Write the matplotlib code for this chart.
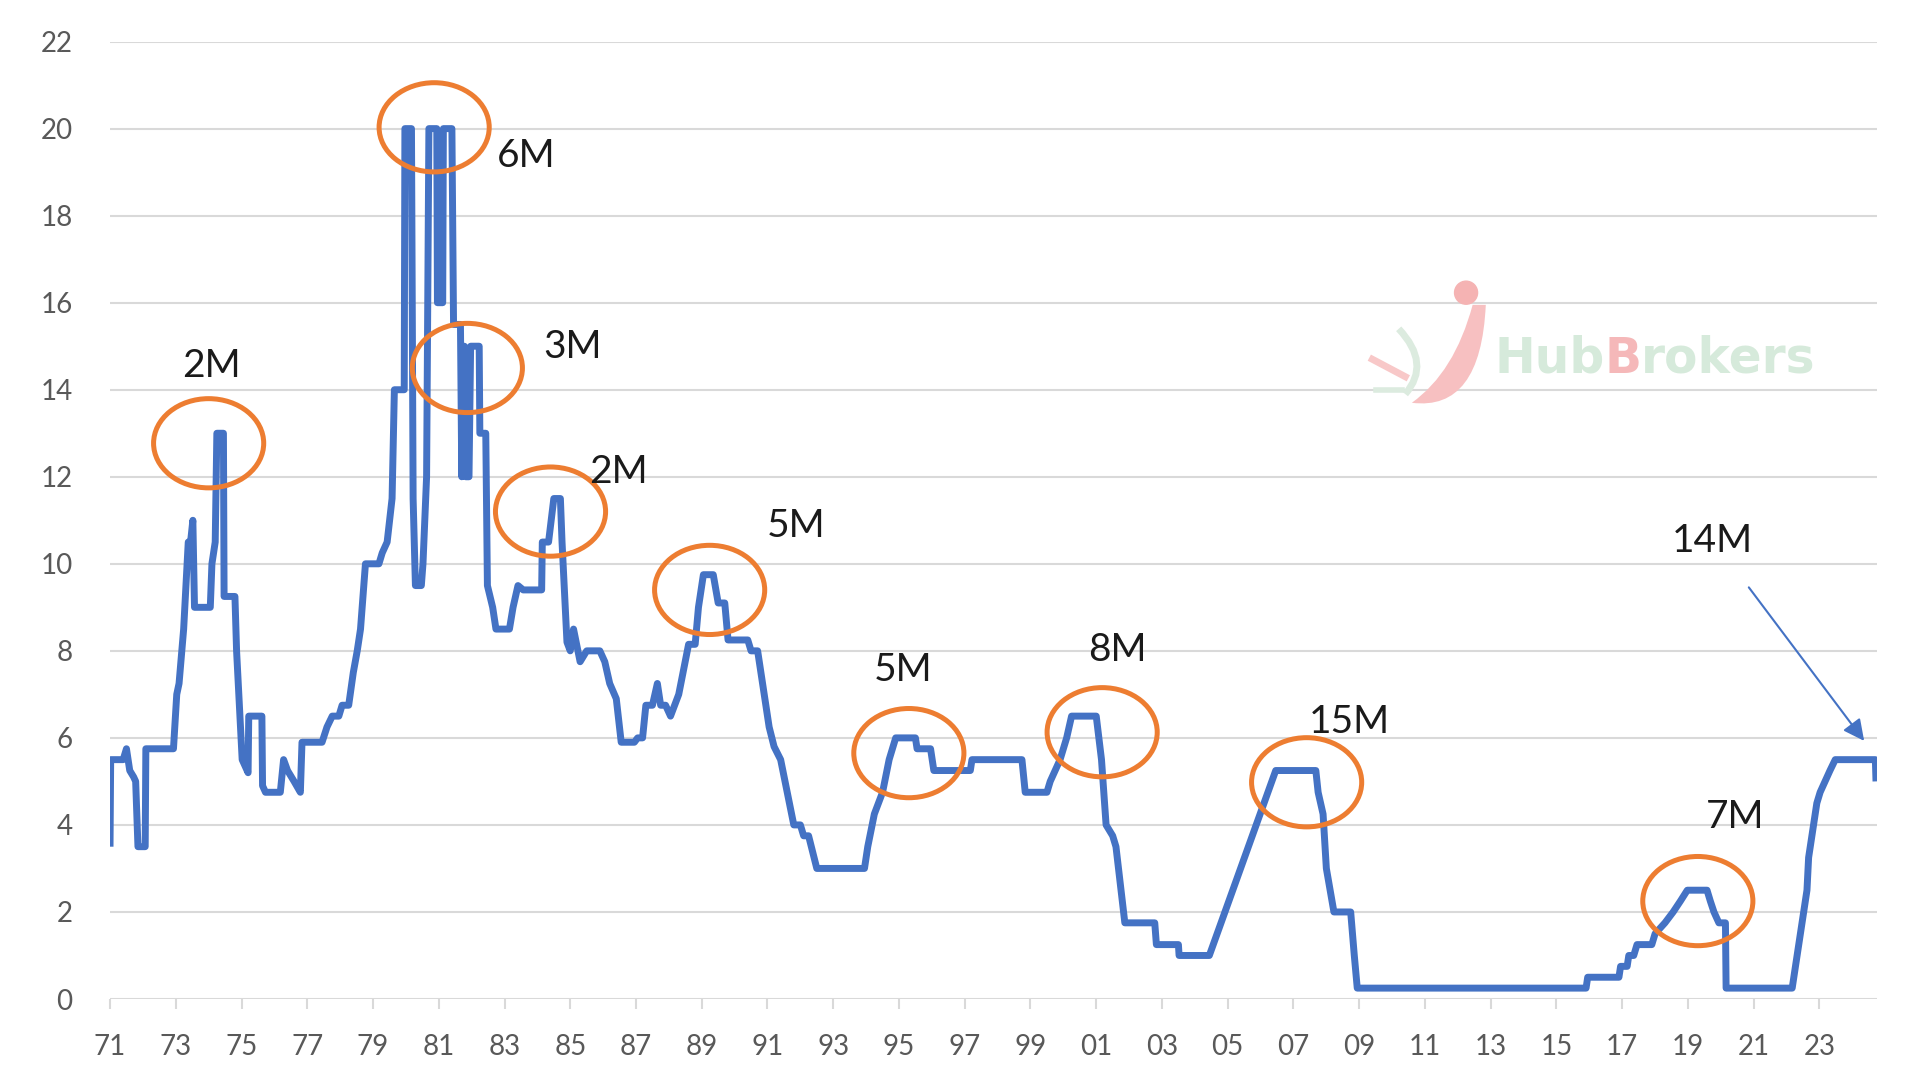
import numpy as np
import matplotlib
matplotlib.use('Agg')
import matplotlib.pyplot as plt
from matplotlib.patches import Ellipse, PathPatch
from matplotlib.path import Path

# tipo de interes (fin de periodo)
yrs = [1971.00, 1971.02, 1971.40, 1971.50, 1971.60, 1971.72, 1971.78, 1971.85, 1972.07, 1972.09,
       1972.93, 1973.03, 1973.10, 1973.24, 1973.38, 1973.45, 1973.52, 1973.57, 1974.05, 1974.10,
       1974.20, 1974.25, 1974.45, 1974.47, 1974.80, 1974.85, 1975.02, 1975.20, 1975.22, 1975.62,
       1975.64, 1975.73, 1976.18, 1976.28, 1976.40, 1976.60, 1976.79, 1976.84, 1977.45, 1977.60,
       1977.76, 1977.96, 1978.06, 1978.26, 1978.40, 1978.52, 1978.62, 1978.72, 1978.77, 1979.18,
       1979.28, 1979.43, 1979.58, 1979.65, 1979.95, 1979.97, 1980.17, 1980.22, 1980.29, 1980.47,
       1980.52, 1980.63, 1980.70, 1980.94, 1980.96, 1981.12, 1981.14, 1981.40, 1981.45, 1981.66,
       1981.70, 1981.78, 1981.82, 1981.92, 1981.97, 1982.23, 1982.25, 1982.43, 1982.48, 1982.64,
       1982.74, 1983.15, 1983.26, 1983.41, 1983.57, 1984.13, 1984.15, 1984.34, 1984.50, 1984.70,
       1984.75, 1984.90, 1985.00, 1985.10, 1985.30, 1985.50, 1985.90, 1986.05, 1986.20, 1986.40,
       1986.55, 1986.95, 1987.05, 1987.20, 1987.30, 1987.50, 1987.65, 1987.75, 1987.90, 1988.05,
       1988.30, 1988.60, 1988.80, 1988.90, 1989.05, 1989.35, 1989.50, 1989.70, 1989.80, 1990.40,
       1990.50, 1990.70, 1991.05, 1991.20, 1991.40, 1991.80, 1992.00, 1992.10, 1992.25, 1992.50,
       1993.95, 1994.05, 1994.25, 1994.50, 1994.70, 1994.90, 1995.50, 1995.55, 1995.96, 1996.06,
       1997.17, 1997.22, 1998.74, 1998.84, 1999.50, 1999.60, 1999.75, 1999.90, 2000.10, 2000.25,
       2001.00, 2001.16, 2001.30, 2001.50, 2001.60, 2001.87, 2002.78, 2002.83, 2003.50, 2003.52,
       2004.44, 2006.46, 2007.68, 2007.75, 2007.90, 2008.00, 2008.23, 2008.74, 2008.85, 2008.94,
       2015.90, 2015.95, 2016.90, 2016.95, 2017.15, 2017.20, 2017.35, 2017.45, 2017.90, 2018.00,
       2018.30, 2018.55, 2018.77, 2018.98, 2019.58, 2019.68, 2019.79, 2019.94, 2020.14, 2020.16,
       2022.17, 2022.22, 2022.32, 2022.47, 2022.62, 2022.67, 2022.82, 2022.92, 2023.02, 2023.17,
       2023.32, 2023.48, 2024.70, 2024.72]
vals = [3.5, 5.5, 5.5, 5.75, 5.25, 5.1, 5.0, 3.5, 3.5, 5.75,
        5.75, 7.0, 7.25, 8.5, 10.5, 10.5, 11.0, 9.0, 9.0, 10.0,
        10.5, 13.0, 13.0, 9.25, 9.25, 8.0, 5.5, 5.2, 6.5, 6.5,
        4.9, 4.75, 4.75, 5.5, 5.25, 5.0, 4.75, 5.9, 5.9, 6.25,
        6.5, 6.5, 6.75, 6.75, 7.5, 8.0, 8.5, 9.5, 10.0, 10.0,
        10.25, 10.5, 11.5, 14.0, 14.0, 20.0, 20.0, 11.5, 9.5, 9.5,
        10.0, 12.0, 20.0, 20.0, 16.0, 16.0, 20.0, 20.0, 15.5, 15.5,
        12.0, 15.0, 12.0, 12.0, 15.0, 15.0, 13.0, 13.0, 9.5, 9.0,
        8.5, 8.5, 9.0, 9.5, 9.4, 9.4, 10.5, 10.5, 11.5, 11.5,
        10.5, 8.2, 8.0, 8.5, 7.75, 8.0, 8.0, 7.75, 7.25, 6.9,
        5.9, 5.9, 6.0, 6.0, 6.75, 6.75, 7.25, 6.75, 6.75, 6.5,
        7.0, 8.15, 8.15, 9.0, 9.75, 9.75, 9.1, 9.1, 8.25, 8.25,
        8.0, 8.0, 6.25, 5.8, 5.5, 4.0, 4.0, 3.75, 3.75, 3.0,
        3.0, 3.5, 4.25, 4.75, 5.5, 6.0, 6.0, 5.75, 5.75, 5.25,
        5.25, 5.5, 5.5, 4.75, 4.75, 5.0, 5.25, 5.5, 6.0, 6.5,
        6.5, 5.5, 4.0, 3.75, 3.5, 1.75, 1.75, 1.25, 1.25, 1.0,
        1.0, 5.25, 5.25, 4.75, 4.25, 3.0, 2.0, 2.0, 1.0, 0.25,
        0.25, 0.5, 0.5, 0.75, 0.75, 1.0, 1.0, 1.25, 1.25, 1.5,
        1.75, 2.0, 2.25, 2.5, 2.5, 2.25, 2.0, 1.75, 1.75, 0.25,
        0.25, 0.5, 1.0, 1.75, 2.5, 3.25, 4.0, 4.5, 4.75, 5.0,
        5.25, 5.5, 5.5, 5.0]

# etiquetas de duracion
lbl_txt = ['2M', '6M', '3M', '2M', '5M', '5M', '8M', '15M', '7M', '14M']
lbl_x = [1974.09, 1983.65, 1985.07, 1986.48, 1991.88, 1995.12, 2001.63, 2008.70, 2020.42, 2019.75]
lbl_y = [14.54, 19.38, 14.99, 12.10, 10.86, 7.57, 8.02, 6.36, 4.19, 10.52]

# circulos naranjas
ell_x = [1974.0, 1980.86, 1981.87, 1984.4, 1989.24, 1995.3, 2001.18, 2007.4, 2019.3]
ell_y = [12.77, 20.03, 14.5, 11.2, 9.4, 5.65, 6.13, 4.98, 2.25]

xtick_yrs = list(range(1971, 2024, 2))
ytick_vals = list(range(0, 23, 2))

azul = '#4472C4'
naranja = '#ED7D31'
gris = '#D9D9D9'

plt.rcParams['font.family'] = ['Lato', 'DejaVu Sans']

fig = plt.figure(figsize=(19.2, 10.8), dpi=100)
ax = fig.add_axes([0.0573, 0.075, 0.9203, 0.8865])

ax.plot(yrs, vals, color=azul, linewidth=5, solid_joinstyle='round',
        solid_capstyle='butt', zorder=3)

for cx, cy in zip(ell_x, ell_y):
    ax.add_patch(Ellipse((cx, cy), 3.35, 2.05, fill=False, edgecolor=naranja,
                         linewidth=3.6, zorder=4))

for t, x, y in zip(lbl_txt, lbl_x, lbl_y):
    ax.text(x, y, t, fontsize=28, color='#1a1a1a', ha='center', va='center', zorder=5)

ax.annotate('', xy=(2024.41, 5.88), xytext=(2020.8, 9.51),
            arrowprops=dict(arrowstyle='-|>', color=azul, lw=1.5, mutation_scale=32),
            zorder=5)

# marca de agua
wm = dict(fontsize=35, fontweight='bold', family='DejaVu Sans', zorder=1)
t1 = ax.text(2013.1, 14.39, 'Hub', color='#D6EADB', ha='left', va='baseline', **wm)
t2 = ax.annotate('B', xy=(1, 0), xycoords=t1, color='#F5B8B9', ha='left', va='bottom', **wm)
ax.annotate('rokers', xy=(1, 0), xycoords=t2, color='#D6EADB', ha='left', va='bottom', **wm)
ax.add_patch(Ellipse((2012.25, 16.23), 0.7, 0.53, color='#F5B3B3', zorder=1))
cres = Path([(2012.85, 15.95), (2012.7, 13.5), (2010.6, 13.7),
             (2011.9, 14.4), (2012.45, 15.95), (2012.85, 15.95)],
            [Path.MOVETO, Path.CURVE3, Path.CURVE3, Path.CURVE3, Path.CURVE3, Path.CLOSEPOLY])
ax.add_patch(PathPatch(cres, facecolor='#F7C0C1', edgecolor='none', zorder=1))
sw2 = Path([(2010.2, 15.4), (2011.2, 14.6), (2010.4, 13.9)],
           [Path.MOVETO, Path.CURVE3, Path.CURVE3])
ax.add_patch(PathPatch(sw2, fill=False, edgecolor='#DCEBDF', lw=5, zorder=1))
ax.plot([2009.4, 2010.4], [14.7, 14.3], color='#F8C8C8', lw=5, zorder=1)
ax.plot([2009.5, 2010.3], [14.0, 14.0], color='#DCEBDF', lw=4, zorder=1)

ax.set_xlim(1971, 2024.75)
ax.set_ylim(0, 22)
ax.set_xticks(xtick_yrs)
ax.set_xticklabels([f'{y % 100:02d}' for y in xtick_yrs])
ax.set_yticks(ytick_vals)
ax.grid(axis='y', color=gris, linewidth=1.5, zorder=0)
ax.set_axisbelow(True)
for s in ax.spines.values():
    s.set_visible(False)
ax.tick_params(axis='x', length=7, width=1.5, color=gris, labelsize=20,
               labelcolor='#595959', pad=18)
ax.tick_params(axis='y', length=0, labelsize=20, labelcolor='#595959', pad=27)

fig.savefig('out.png', dpi=100, facecolor='white')
